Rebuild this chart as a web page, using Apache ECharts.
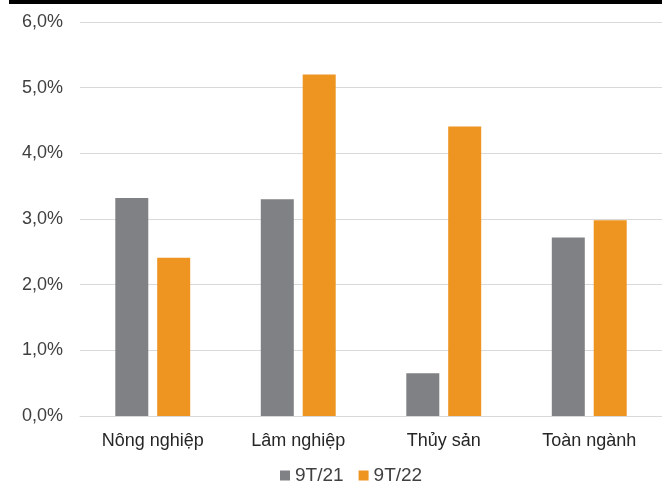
<!DOCTYPE html>
<html>
<head>
<meta charset="utf-8">
<script src="https://cdn.jsdelivr.net/npm/echarts@6/dist/echarts.min.js"></script>
<style>
html,body{margin:0;padding:0;background:#fff;}
#c{width:662px;height:484px;}
</style>
</head>
<body>
<div id="c"></div>
<script>
const categories = ["Nông nghiệp", "Lâm nghiệp", "Thủy sản", "Toàn ngành"];
const seriesNames = ["9T/21", "9T/22"];
const values9T21 = [3.32, 3.30, 0.65, 2.72];
const values9T22 = [2.41, 5.20, 4.41, 2.98];
const yTicks = [0, 1, 2, 3, 4, 5, 6];

const chart = echarts.init(document.getElementById('c'), null, {renderer: 'canvas'});
const font = 'Liberation Sans, Arial, sans-serif';
chart.setOption({
  animation: false,
  backgroundColor: '#ffffff',
  graphic: [{
    type: 'rect', left: 9, top: 0,
    shape: {width: 653, height: 4},
    style: {fill: '#000000'}
  }],
  grid: {left: 80, top: 22, width: 583, height: 394, containLabel: false},
  legend: {
    data: seriesNames,
    left: 280, top: 466, padding: 0,
    itemWidth: 10, itemHeight: 10, itemGap: 15, itemTextGap: 3,
    icon: 'rect',
    textStyle: {fontFamily: font, fontSize: 19, color: '#404040'}
  },
  xAxis: {
    type: 'category',
    data: categories,
    axisLine: {show: true, lineStyle: {color: '#d9d9d9', width: 1}},
    axisTick: {show: false},
    axisLabel: {fontFamily: font, fontSize: 18, color: '#262626', margin: 16}
  },
  yAxis: {
    type: 'value',
    min: yTicks[0], max: yTicks[yTicks.length - 1], interval: 1,
    axisLine: {show: false},
    axisTick: {show: false},
    splitLine: {lineStyle: {color: '#d9d9d9', width: 1}},
    axisLabel: {
      fontFamily: font, fontSize: 18, color: '#404040', margin: 17,
      formatter: v => v.toFixed(1).replace('.', ',') + '%'
    }
  },
  series: [
    {name: seriesNames[0], type: 'bar', data: values9T21, barWidth: 33, barGap: '27%',
     itemStyle: {color: '#808184'}},
    {name: seriesNames[1], type: 'bar', data: values9T22, barWidth: 33, barGap: '27%',
     itemStyle: {color: '#ED9520'}}
  ]
});
</script>
</body>
</html>
